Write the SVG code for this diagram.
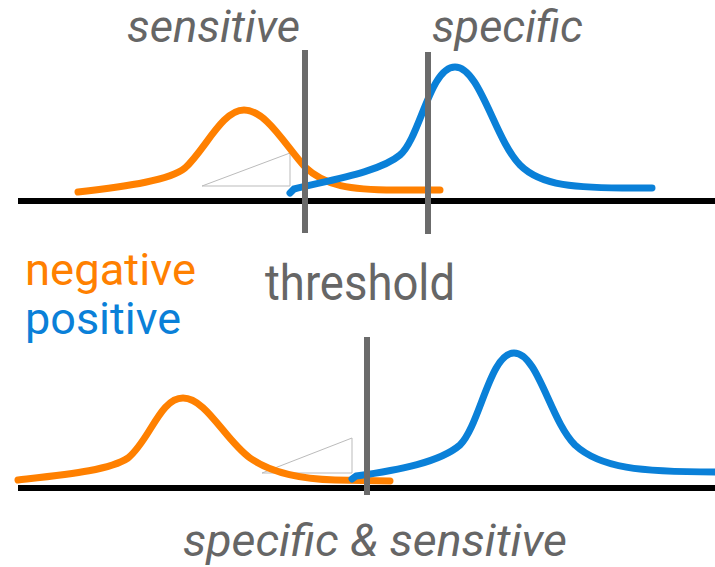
<svg xmlns="http://www.w3.org/2000/svg" width="715" height="567" viewBox="0 0 715 567">
<style>
.axis{stroke:#000;stroke-width:6;fill:none}
.neg{stroke:#FF8000;stroke-width:7;fill:none;stroke-linecap:round}
.pos{stroke:#0A80D8;stroke-width:7;fill:none;stroke-linecap:round}
.thr{stroke:#6B6B6B;stroke-width:6;fill:none}
.tri{stroke:#BBBBBB;stroke-width:1;fill:none}
.lbl{font-family:Roboto,"Liberation Sans",sans-serif;fill:#666666}
.it{font-style:italic}
</style>
<rect width="715" height="567" fill="#fff"/>
<g id="axes">
<line class="axis" x1="18" y1="201" x2="715" y2="201"/>
<line class="axis" x1="18" y1="488" x2="715" y2="488"/>
</g>
<g id="top-panel">
<polyline class="tri" points="202,186 290,153 290,186 202,186"/>
<path id="top-negative" class="neg" d="M78,192 C130,186 170,180 185,168 C205,150 222,110 244,110 C266,110 285,145 305,167 C325,186 350,190 395,190 L440,190"/>
<path id="top-positive" class="pos" d="M290,193 L294,189 C330,180 380,172 400,155 C420,138 430,67 455,67 C480,67 495,140 520,165 C540,185 570,189 652,188"/>
</g>
<g id="bottom-panel">
<polyline class="tri" points="262,473 352,438 352,473 262,473"/>
<path id="bottom-negative" class="neg" d="M18,480 C70,474 110,470 128,458 C150,440 160,398 183,398 C206,398 225,440 250,458 C270,472 300,479 335,480 L390,481"/>
<path id="bottom-positive" class="pos" d="M352,479 L356,476 C400,470 440,462 460,445 C480,425 490,353 514,353 C538,353 550,420 575,445 C600,468 640,472 715,472"/>
</g>
<g id="thresholds">
<line class="thr" x1="305" y1="50" x2="305" y2="233"/>
<line class="thr" x1="428" y1="52" x2="428" y2="234"/>
<line class="thr" x1="367" y1="337" x2="367" y2="495"/>
</g>
<g id="labels">
<text class="lbl it" x="127" y="42" font-size="44" textLength="173" lengthAdjust="spacingAndGlyphs">sensitive</text>
<text class="lbl it" x="432" y="42" font-size="44" textLength="151" lengthAdjust="spacingAndGlyphs">specific</text>
<text class="lbl" x="25" y="285" font-size="44" style="fill:#FF8000" textLength="171" lengthAdjust="spacingAndGlyphs">negative</text>
<text class="lbl" x="25" y="334" font-size="44" style="fill:#0A80D8" textLength="156" lengthAdjust="spacingAndGlyphs">positive</text>
<text class="lbl" x="265" y="300" font-size="50" textLength="190" lengthAdjust="spacingAndGlyphs">threshold</text>
<text class="lbl it" x="183" y="556" font-size="44" textLength="384" lengthAdjust="spacingAndGlyphs">specific &amp; sensitive</text>
</g>
</svg>
